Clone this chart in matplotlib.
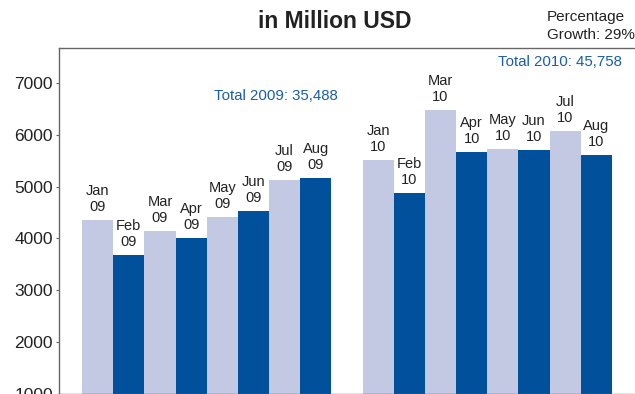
import numpy as np
import matplotlib
matplotlib.use('Agg')
from matplotlib import pyplot as plt

plt.rcParams['font.family'] = ['Liberation Sans', 'DejaVu Sans']

# monthly values, million USD
months = ['Jan', 'Feb', 'Mar', 'Apr', 'May', 'Jun', 'Jul', 'Aug']
vals_2009 = [4356, 3679, 4143, 4008, 4420, 4530, 5130, 5168]
vals_2010 = [5516, 4884, 6489, 5677, 5735, 5710, 6077, 5613]
total_2009 = '35,488'
total_2010 = '45,758'
growth = '29%'

light = '#c3c9e3'
dark = '#00509b'
blue_txt = '#1a5ea8'

W, H = 635, 394
fig = plt.figure(figsize=(W/100, H/100), dpi=100)
ax = fig.add_axes([59/W, 0.5/H, 1 - 59/W, (H - 48 - 0.5)/H])

x09 = np.arange(8)
x10 = np.arange(8) + 9
cols = [light if i % 2 == 0 else dark for i in range(8)]

ax.bar(x09, vals_2009, width=1.0, color=cols)
ax.bar(x10, vals_2010, width=1.0, color=cols)

# month labels on top of each bar
for xs, vs, yr in [(x09, vals_2009, '09'), (x10, vals_2010, '10')]:
    for xi, v, m in zip(xs, vs, months):
        ax.annotate(m + '\n' + yr, (xi, v), xytext=(0, 4), textcoords='offset points',
                    ha='center', va='bottom', fontsize=10.5, color='#222222',
                    linespacing=1.2)

ax.set_xlim(-1.237, 17.237)
ax.set_ylim(1000, 7683)
ax.set_yticks([1000, 2000, 3000, 4000, 5000, 6000, 7000])
ax.set_xticks([])
ax.tick_params(axis='y', length=2.5, pad=2, labelsize=12.5, color='#666666',
               labelcolor='#222222')
for s in ['left', 'top', 'bottom']:
    ax.spines[s].set_color('#666666')
    ax.spines[s].set_linewidth(1.0)
ax.spines['right'].set_visible(False)

# yearly totals
fig.text(214/W, 1 - 96/H, 'Total 2009: ' + total_2009, fontsize=10.8,
         color=blue_txt, ha='left', va='center')
fig.text(622/W, 1 - 62/H, 'Total 2010: ' + total_2010, fontsize=10.8,
         color=blue_txt, ha='right', va='center')

fig.text(335/W, 1 - 21/H, 'in Million USD', fontsize=16.5, fontweight='bold',
         color='#222222', ha='center', va='center')
fig.text(547/W, 1 - 26/H, 'Percentage\nGrowth: ' + growth, fontsize=11,
         color='#222222', ha='left', va='center', linespacing=1.3)

plt.savefig('out.png', dpi=100)
